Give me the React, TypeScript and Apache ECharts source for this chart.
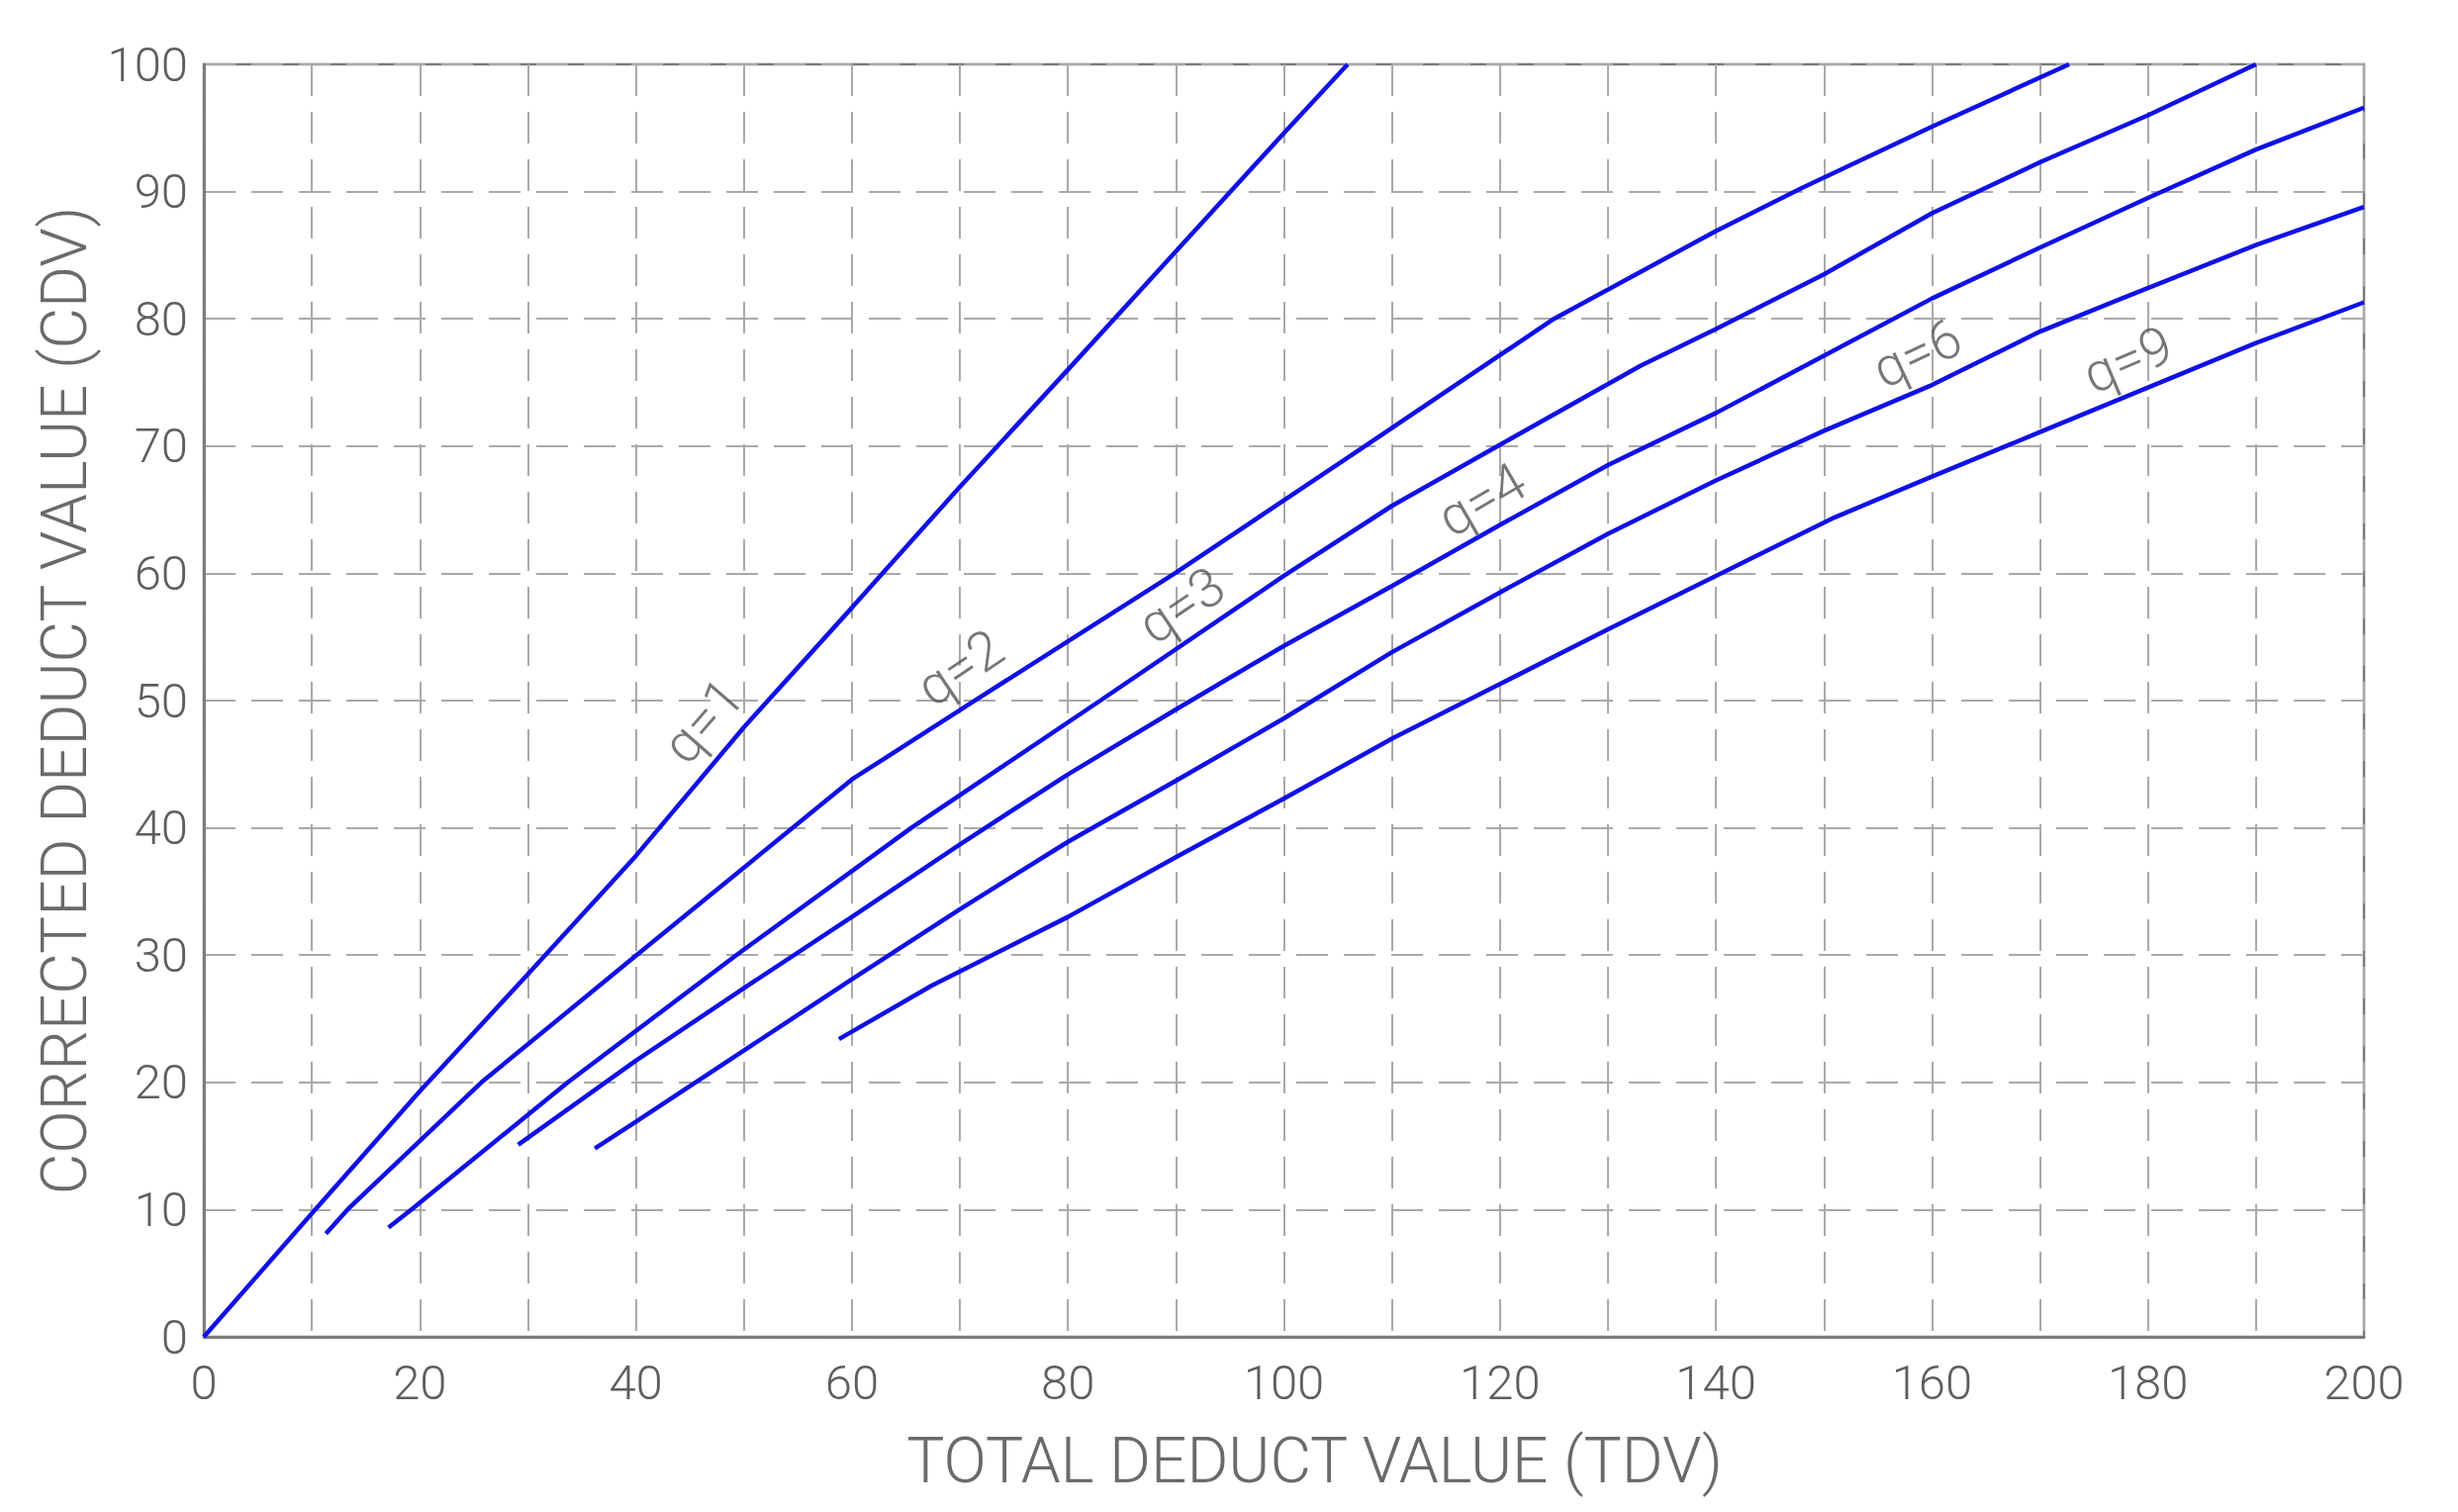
import React, { useEffect, useRef } from "react";
import * as echarts from "echarts";

// Curve names (number of deducts > threshold)
const curveNames = ["q=1", "q=2", "q=3", "q=4", "q=6", "q=9"];

// [TDV, CDV] pairs
const q1 = [[0, 0], [10, 9.7], [20, 19.3], [30, 28.5], [40, 37.8], [50, 47.9], [60, 57.3], [70, 66.8], [80, 76], [90, 85.3], [100, 94.6], [105.9, 100]];
const q2 = [[11.3, 8.1], [13.3, 10], [25.7, 20], [39.5, 29.6], [60, 43.8], [71, 49.8], [89.9, 60], [107.5, 70], [125, 80], [140, 86.9], [148, 90.3], [160, 95.1], [172.7, 100]];
const q3 = [[17.1, 8.6], [19.2, 10], [33.7, 20], [49.3, 30], [65.5, 40], [83, 50], [100, 59.8], [110, 65.3], [120, 70.1], [133, 76.3], [140, 79.2], [150, 83.5], [160, 88.3], [170, 92.3], [180, 96], [190, 100]];
const q4 = [[29.1, 15.1], [40, 21.7], [50, 27.4], [60, 33], [70, 38.7], [80, 44.2], [90, 49.3], [100, 54.3], [110, 59], [120, 63.8], [130, 68.5], [140, 72.6], [150, 77.1], [160, 81.6], [170, 85.6], [180, 89.5], [190, 93.3], [200, 96.6]];
const q6 = [[36.2, 14.8], [40, 16.9], [50, 22.5], [60, 28.1], [70, 33.6], [80, 38.9], [90, 43.7], [100, 48.6], [110, 53.8], [120, 58.5], [130, 63.1], [140, 67.3], [150, 71.2], [160, 74.8], [170, 79], [177, 81.4], [190, 85.8], [200, 88.8]];
const q9 = [[58.8, 23.4], [67.4, 27.6], [80, 33], [90, 37.7], [100, 42.3], [110, 47], [120, 51.3], [130, 55.6], [140, 59.8], [151, 64.4], [160, 67.6], [170, 71.1], [180, 74.6], [190, 78.1], [200, 81.3]];
const curves = [q1, q2, q3, q4, q6, q9];

// Curve label anchors (TDV, CDV) and text angles
const labelTDV = [46.2, 70.0, 90.5, 118.3, 158.6, 178.1];
const labelCDV = [48.4, 52.6, 57.5, 65.8, 77.3, 76.8];
const labelAngle = [49, 34, 34, 30, 25, 23];

const xTitle = "TOTAL DEDUCT VALUE (TDV)";
const yTitle = "CORRECTED DEDUCT VALUE (CDV)";

const FONT = "Roboto";
const GRID_LINE = { color: "#a9a9a9", width: 2, type: [32, 16] as number[] };
const FRAME = { color: "#7a7a7a", width: 2.5 };

export default function App() {
  const ref = useRef<HTMLDivElement>(null);
  useEffect(() => {
    const chart = echarts.init(ref.current!, null, { renderer: "svg" });
    const tickLabel = { fontSize: 49, color: "#5e5e5e", fontFamily: FONT, fontWeight: 300 };
    const titleStyle = { fontSize: 64, color: "#6a6a6a", fontFamily: FONT, fontWeight: 300 };
    chart.setOption({
      animation: false,
      backgroundColor: "#fff",
      grid: { left: 206, right: 95, top: 65, bottom: 177, show: true, borderColor: FRAME.color, borderWidth: 2.5, backgroundColor: "#fff" },
      xAxis: [
        {
          type: "value", min: 0, max: 200, interval: 20,
          axisLine: { show: true, lineStyle: FRAME },
          axisTick: { show: false },
          axisLabel: { ...tickLabel, margin: 22 },
          splitLine: { show: true, lineStyle: GRID_LINE },
          minorTick: { show: false, splitNumber: 2 },
          minorSplitLine: { show: true, lineStyle: GRID_LINE },
          name: xTitle, nameLocation: "middle", nameGap: 93,
          nameTextStyle: { ...titleStyle, padding: [0, 0, 0, 62] },
        },
        {
          type: "value", min: 0, max: 200, position: "top",
          axisLine: { show: true, lineStyle: FRAME }, axisTick: { show: false },
          axisLabel: { show: false }, splitLine: { show: false },
        },
      ],
      yAxis: [
        {
          type: "value", min: 0, max: 100, interval: 10,
          axisLine: { show: true, lineStyle: FRAME },
          axisTick: { show: false },
          axisLabel: { ...tickLabel, margin: 16 },
          splitLine: { show: true, lineStyle: GRID_LINE },
          name: yTitle, nameLocation: "middle", nameGap: 70,
          nameTextStyle: titleStyle,
        },
        {
          type: "value", min: 0, max: 100, position: "right",
          axisLine: { show: true, lineStyle: FRAME }, axisTick: { show: false },
          axisLabel: { show: false }, splitLine: { show: false },
        },
      ],
      series: [
        ...curves.map((c, i) => ({
          type: "line", name: curveNames[i], data: c, showSymbol: false, symbol: "none",
          lineStyle: { color: "#1010e6", width: 4.5 }, z: 5,
        })),
        {
          type: "scatter", name: "labels", symbolSize: 1, itemStyle: { color: "rgba(0,0,0,0)" }, z: 6,
          data: labelTDV.map((x, i) => ({
            value: [x, labelCDV[i]],
            label: {
              show: true, formatter: curveNames[i], rotate: labelAngle[i], position: "inside",
              align: "center", verticalAlign: "middle",
              fontSize: 55, color: "#555", fontFamily: FONT, fontWeight: 300,
            },
          })),
        },
      ],
    });
    return () => chart.dispose();
  }, []);
  return <div ref={ref} style={{ position: "fixed", left: 0, top: 0, width: 2484, height: 1528, background: "#fff" }} />;
}
